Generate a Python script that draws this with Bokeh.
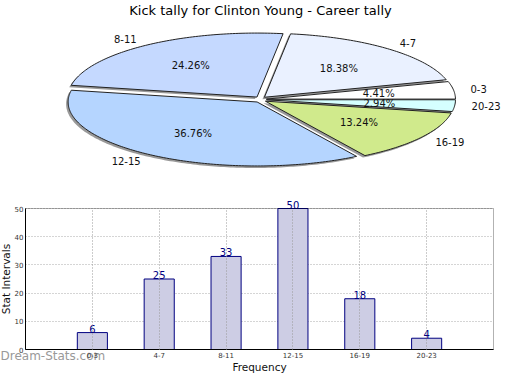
import math
from bokeh.plotting import figure
from bokeh.models import Range1d, FixedTicker, ColumnDataSource, BoxAnnotation
from bokeh.layouts import column
from bokeh.core.properties import value, field
from bokeh.embed import file_html
from bokeh.resources import INLINE

# ---- data ----
title_text = "Kick tally for Clinton Young - Career tally"
categories = ["0-3", "4-7", "8-11", "12-15", "16-19", "20-23"]
counts = [6, 25, 33, 50, 18, 4]
slice_colors = ["#ffffff", "#eaf1ff", "#c5d9ff", "#b5d5ff", "#d0ea8c", "#d5ffff"]
y_ticks = [0, 10, 20, 30, 40, 50]
y_max = 50
x_label = "Frequency"
y_label = "Stat Intervals"
watermark = "Dream-Stats.com"

FONT = value("DejaVu Sans")
W, H1, H2 = 504, 186, 188


def no_align(p):
    if "frame_align" in p.properties():
        p.frame_align = False


# ---- pie figure (data coords == pixel coords) ----
pie = figure(width=W, height=H1, x_range=Range1d(0, W), y_range=Range1d(H1, 0),
             output_backend="svg", toolbar_location=None, min_border=0,
             x_axis_type=None, y_axis_type=None, outline_line_color=None)
pie.grid.visible = False
no_align(pie)

cx, cy, rx, ry = 260, 99, 189, 64
explode, ey_fac = 6, 0.5
total = float(sum(counts))
xs, ys, sxs, sys_ = [], [], [], []
pct_x, pct_y, pct_t = [], [], []
lab_x, lab_y, lab_t, lab_a = [], [], [], []
cum = 0.0
for c, n in zip(categories, counts):
    a0 = 2 * math.pi * cum / total
    a1 = 2 * math.pi * (cum + n) / total
    cum += n
    m = (a0 + a1) / 2
    ox = cx + explode * math.cos(m)
    oy = cy - explode * ey_fac * math.sin(m)
    steps = max(8, int((a1 - a0) * 60))
    px = [ox] + [ox + rx * math.cos(a0 + (a1 - a0) * i / steps) for i in range(steps + 1)]
    py = [oy] + [oy - ry * math.sin(a0 + (a1 - a0) * i / steps) for i in range(steps + 1)]
    xs.append(px); ys.append(py)
    sxs.append([v - 2 for v in px]); sys_.append([v + 2 for v in py])
    pct_x.append(ox + 0.6 * rx * math.cos(m)); pct_y.append(oy - 0.6 * ry * math.sin(m))
    pct_t.append("%.2f%%" % (100.0 * n / total))
    lab_x.append(ox + (rx + 17) * math.cos(m)); lab_y.append(oy - (ry + 8) * math.sin(m))
    lab_t.append(c); lab_a.append("left" if math.cos(m) >= 0 else "right")

pie.patches(sxs, sys_, fill_color="#999999", line_color=None)
pie.patches(xs, ys, fill_color=slice_colors, line_color="#222222", line_width=1)
pie.text(pct_x, pct_y, text=pct_t, text_font=FONT, text_font_size="10px",
         text_align="center", text_baseline="middle", text_color="#111111")
lsrc = ColumnDataSource(dict(x=lab_x, y=lab_y, t=lab_t, a=lab_a))
pie.text("x", "y", text="t", source=lsrc, text_font=FONT, text_font_size="10px",
         text_align=field("a"), text_baseline="middle", text_color="#111111")
pie.text([260], [10], text=[title_text], text_font=FONT, text_font_size="13px",
         text_align="center", text_baseline="middle", text_color="#000000")

# ---- bar figure: frame covers whole canvas, axes placed at data 0 ----
ncat = len(categories)
box_left_px, box_right_px = 25, 493          # page pixels of the plot box
box_top_px, box_bottom_px = 208, 349
ux = (box_right_px - box_left_px) / float(ncat + 1)
uy = (box_bottom_px - box_top_px) / float(y_max)
x_rng = Range1d(-box_left_px / ux, (W - box_left_px) / ux)
y_rng = Range1d(-(H1 + H2 - box_bottom_px) / uy, y_max + (box_top_px - H1) / uy)

xpos = list(range(1, ncat + 1))
bar = figure(width=W, height=H2, x_range=x_rng, y_range=y_rng,
             output_backend="svg", toolbar_location=None, min_border=0,
             outline_line_color=None)
no_align(bar)

bsrc = ColumnDataSource(dict(x=xpos, top=counts, lbl=[str(v) for v in counts]))
bar.vbar(x="x", top="top", width=0.45, bottom=0, source=bsrc,
         fill_color="#cdcde4", line_color="#000080", line_width=1)
bar.text("x", "top", text="lbl", source=bsrc, text_font=FONT, text_font_size="10px",
         text_align="center", text_baseline="bottom", text_color="#000080")

bar.xaxis.ticker = FixedTicker(ticks=xpos)
bar.xaxis.major_label_overrides = {p: c for p, c in zip(xpos, categories)}
bar.yaxis.ticker = FixedTicker(ticks=y_ticks)
bar.xaxis.fixed_location = 0
bar.yaxis.fixed_location = 0
bar.xaxis.bounds = (0, ncat + 1)
bar.yaxis.bounds = (0, y_max)
bar.xaxis.axis_label = x_label
bar.yaxis.axis_label = y_label
for ax in (bar.xaxis, bar.yaxis):
    ax.major_tick_in = 0
    ax.major_tick_out = 0
    ax.minor_tick_line_color = None
    ax.axis_line_color = "black"
    ax.major_label_text_font = "DejaVu Sans"
    ax.major_label_text_font_size = "7px"
    ax.major_label_text_color = "#333333"
    ax.axis_label_text_font = "DejaVu Sans"
    ax.axis_label_text_font_style = "normal"
    ax.axis_label_text_color = "#111111"
bar.xaxis.major_label_standoff = 2
bar.xaxis.axis_label_standoff = 0
bar.yaxis.major_label_standoff = 2
bar.yaxis.axis_label_standoff = 0
bar.xaxis.axis_label_text_font_size = "10.5px"
bar.yaxis.axis_label_text_font_size = "10.5px"

bar.xgrid.grid_line_color = "#999999"
bar.xgrid.grid_line_dash = "1 2"
bar.xgrid.level = "overlay"
bar.ygrid.grid_line_color = "#aaaaaa"
bar.ygrid.grid_line_dash = "1 2"
bar.xgrid.bounds = (0, ncat + 1)
bar.ygrid.bounds = (0, y_max)
if "cross_bounds" in bar.xgrid[0].properties():
    bar.xgrid.cross_bounds = (0, y_max)
    bar.ygrid.cross_bounds = (0, ncat + 1)

bar.add_layout(BoxAnnotation(left=0, right=ncat + 1, bottom=0, top=y_max,
                             fill_alpha=0, line_color="black", line_width=1))
bar.text([x_rng.start], [-6 / uy], text=[watermark], text_font=FONT, text_font_size="12px",
         text_align="left", text_baseline="middle", text_color="#999999")

layout = column(pie, bar)
open("out.html", "w").write(file_html(layout, INLINE))
